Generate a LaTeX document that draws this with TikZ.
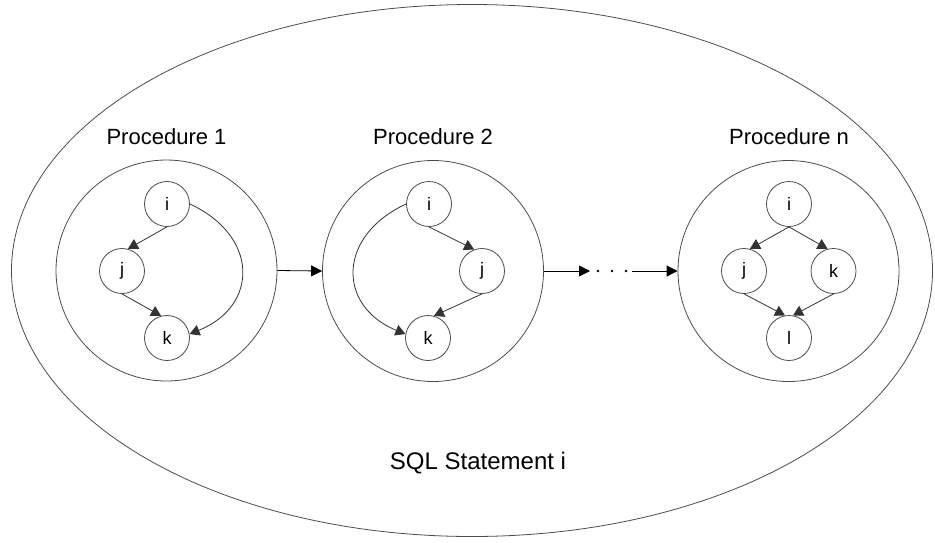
\documentclass[tikz,border=0pt]{standalone}
\usepackage{fontspec}
\setmainfont{Liberation Sans}
\usetikzlibrary{arrows.meta,shapes.geometric}
\begin{document}
\begin{tikzpicture}[x=1pt,y=-1pt,
  outer/.style={ellipse,draw=black!70,line width=0.8pt,minimum width=921pt,minimum height=532pt,inner sep=0pt},
  proc/.style={circle,draw=black!70,line width=0.8pt,minimum size=221pt,inner sep=0pt},
  vert/.style={circle,draw=black!70,line width=0.8pt,minimum size=45pt,inner sep=0pt,font=\fontsize{18}{21}\selectfont},
  title/.style={font=\fontsize{22}{26}\selectfont},
  edge/.style={draw=black!80,line width=0.8pt,-{Triangle[length=10pt,width=11pt]}},
  link/.style={draw=black,line width=0.8pt,-{Triangle[length=11pt,width=11pt]}}
]
\useasboundingbox (0,0) rectangle (935,542);
\node[outer] (sql) at (472,270.5) {};
\node[font=\fontsize{24}{28}\selectfont] (sqlt) at (478,463) {SQL Statement i};

% Procedure circles
\node[proc] (p1) at (166.5,270.5) {};
\node[proc] (p2) at (433,271) {};
\node[proc] (p3) at (788.5,271) {};
\node[title] (t1) at (166.5,137) {Procedure 1};
\node[title] (t2) at (433,137) {Procedure 2};
\node[title] (t3) at (789,137) {Procedure n};

% Procedure 1
\node[vert] (ai) at (167,204) {i};
\node[vert] (aj) at (122,271) {j};
\node[vert] (ak) at (167,338) {k};
\draw[edge] (ai.south) -- (aj.75);
\draw[edge] (aj.south) -- (ak.105);
\draw[edge] (ai.east) .. controls (259,236) and (259,306) .. (ak.10);

% Procedure 2
\node[vert] (bi) at (429,204) {i};
\node[vert] (bj) at (482,271) {j};
\node[vert] (bk) at (428,338) {k};
\draw[edge] (bi.south) -- (bj.110);
\draw[edge] (bj.south) -- (bk.75);
\draw[edge] (bi.west) .. controls (337,236) and (337,306) .. (bk.170);

% Procedure n
\node[vert] (ci) at (789,204) {i};
\node[vert] (cj) at (744,271) {j};
\node[vert] (ck) at (833.5,271) {k};
\node[vert] (cl) at (789,338) {l};
\draw[edge] (ci.south) -- (cj.75);
\draw[edge] (ci.south) -- (ck.105);
\draw[edge] (cj.south) -- (cl.100);
\draw[edge] (ck.south) -- (cl.80);

% Links between procedures
\coordinate (d1) at (590,271);
\coordinate (d2) at (632,271);
\draw[link] (p1.east) -- (p2.west);
\draw[link] (p2.east) -- (d1);
\fill (598,271) circle (1.4pt) (612,271) circle (1.4pt) (626,271) circle (1.4pt);
\draw[link] (d2) -- (p3.west);
\end{tikzpicture}
\end{document}
